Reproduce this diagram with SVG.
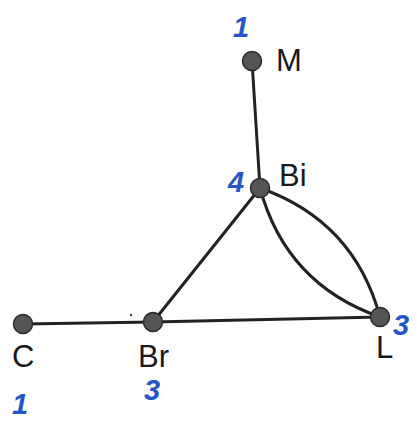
<svg xmlns="http://www.w3.org/2000/svg" width="417" height="423" viewBox="0 0 417 423">
<style>
.edge{stroke:#222;stroke-width:3;fill:none;stroke-linecap:round}
.node{fill:#555;stroke:#2a2a2a;stroke-width:1.5}
.lbl{font-family:"Liberation Sans",Arial,sans-serif;font-size:31px;fill:#1a1a1a}
.num{font-family:"Liberation Sans",Arial,sans-serif;font-size:29px;font-style:italic;font-weight:bold;fill:#2456c8}
</style>
<rect width="417" height="423" fill="#fff"/>
<g id="connectors">
<line class="edge" x1="252" y1="61" x2="260" y2="188"/>
<line class="edge" x1="260" y1="188" x2="153" y2="322"/>
<line class="edge" x1="23" y1="324" x2="153" y2="322"/>
<line class="edge" x1="153" y1="322" x2="380" y2="317"/>
<path class="edge" d="M260,188 Q354,221 380,317"/>
<path class="edge" d="M260,188 Q286,284 380,317"/>
</g>
<circle cx="131" cy="315" r="1.2" fill="#444"/>
<g id="M"><circle class="node" cx="252" cy="61" r="9.5"/><text class="lbl" x="276" y="71">M</text><text class="num" x="233" y="37" font-size="32">1</text></g>
<g id="Bi"><circle class="node" cx="260" cy="188" r="9.5"/><text class="lbl" x="279" y="186">Bi</text><text class="num" x="228" y="192">4</text></g>
<g id="C"><circle class="node" cx="23" cy="324" r="9.5"/><text class="lbl" x="12" y="367">C</text><text class="num" x="12" y="414" font-size="34">1</text></g>
<g id="Br"><circle class="node" cx="153" cy="322" r="9.5"/><text class="lbl" x="138" y="367">Br</text><text class="num" x="144" y="400">3</text></g>
<g id="L"><circle class="node" cx="380" cy="317" r="9.5"/><text class="lbl" x="376" y="358">L</text><text class="num" x="393" y="335">3</text></g>
</svg>
